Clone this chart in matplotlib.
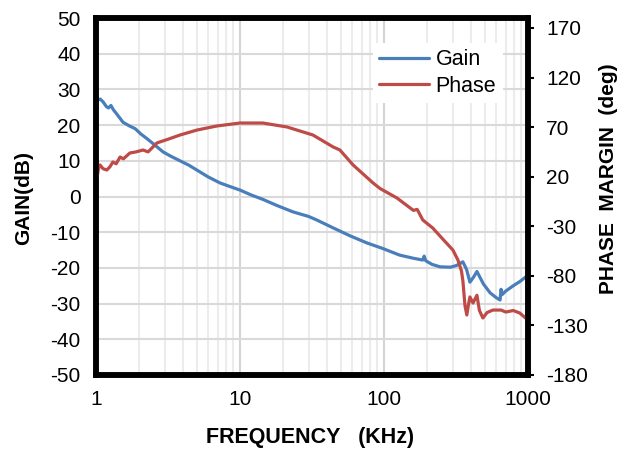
import matplotlib
matplotlib.use("Agg")
import matplotlib.pyplot as plt
from matplotlib.ticker import FixedLocator, FuncFormatter, LogLocator, NullFormatter

plt.rcParams['font.family'] = ['Liberation Sans', 'DejaVu Sans']
plt.rcParams['axes.unicode_minus'] = False

# gain curve (kHz, dB)
gain_f = [1.0, 1.03, 1.07, 1.12, 1.18, 1.22, 1.27, 1.32, 1.4, 1.54,
          1.7, 1.87, 2.05, 2.26, 2.6, 2.92, 3.3, 3.83, 4.4, 5.02,
          6.0, 7.26, 8.5, 10, 12, 14.4, 18, 23.3, 30, 34.2,
          44.4, 58, 76, 98.6, 128, 160, 186, 190, 195, 215,
          245, 290, 320, 353, 375, 395, 420, 442, 490, 546,
          600, 640, 650, 660, 700, 790, 880, 1000]
gain_db = [26.0, 27.0, 27.3, 26.5, 25.2, 24.8, 25.5, 24.3, 23.0, 20.8,
           19.8, 19.0, 17.5, 16.2, 14.2, 12.5, 11.3, 10.0, 8.8, 7.4,
           5.5, 3.8, 2.8, 1.8, 0.4, -0.8, -2.5, -4.3, -5.6, -6.6,
           -8.8, -11.0, -13.0, -14.6, -16.4, -17.3, -17.8, -16.7, -18.0, -19.0,
           -19.7, -19.8, -19.3, -18.3, -20.5, -24.0, -22.5, -21.0, -24.5, -27.0,
           -28.3, -29.0, -26.0, -27.5, -26.5, -25.0, -23.8, -22.0]

# phase margin curve (kHz, deg)
phase_f = [1.0, 1.016, 1.04, 1.066, 1.12, 1.19, 1.25, 1.31, 1.38, 1.47,
           1.55, 1.72, 1.9, 2.12, 2.3, 2.65, 3.2, 3.83, 5.02, 6.9,
           10, 14.4, 21.2, 32.1, 44.4, 49.4, 61, 84, 94, 123,
           160, 170, 186, 218, 260, 301, 326, 345, 353, 365,
           376, 385, 395, 415, 442, 460, 486, 520, 571, 650,
           700, 790, 877, 1000]
phase_deg = [14, 18.7, 28, 31.8, 28, 26.7, 30, 34.8, 33, 39.8,
             38, 43.9, 45, 46.9, 45, 54, 58, 62, 67, 71.1,
             74.1, 74.1, 70.1, 62, 49.9, 46.9, 31.8, 13.6, 8, -1.5,
             -14, -13, -23.7, -31.8, -44, -54, -64, -75, -85, -110,
             -119.5, -110, -101.3, -107.4, -99.6, -115, -122.5, -117, -114.5, -114.5,
             -116.5, -115, -117.5, -124.7]

gain_ticks = list(range(-50, 51, 10))
phase_ticks = list(range(-180, 171, 50))
freq_ticks = [1, 10, 100, 1000]

blue = '#4a7ebb'
red = '#be4b48'

fig = plt.figure(figsize=(6.33, 4.5), dpi=100)
ax = fig.add_axes([96 / 633, 1 - 375 / 450, 432 / 633, 357 / 450])
ax2 = ax.twinx()

ax.plot(gain_f, gain_db, color=blue, lw=2.3, label='Gain', solid_capstyle='round')
ax2.plot(phase_f, phase_deg, color=red, lw=2.3, label='Phase', solid_capstyle='round')

ax.set_xscale('log')
ax.set_xlim(1, 1000)
ax.set_ylim(-50, 50)
ax2.set_ylim(-180, 180)

ax.xaxis.set_major_locator(FixedLocator(freq_ticks))
ax.xaxis.set_major_formatter(FuncFormatter(lambda v, p: '%g' % v))
ax.xaxis.set_minor_locator(LogLocator(base=10, subs=range(2, 10)))
ax.xaxis.set_minor_formatter(NullFormatter())
ax.set_yticks(gain_ticks)
ax2.set_yticks(phase_ticks)

# grid
ax.grid(which='major', axis='y', color='#d9d9d9', lw=1.5)
ax.grid(which='major', axis='x', color='#d4d4d4', lw=1.5)
ax.grid(which='minor', axis='x', color='#ececec', lw=1.5)
ax.set_axisbelow(True)

ax.tick_params(axis='both', which='both', length=0, labelsize=15, pad=11)
ax2.tick_params(axis='y', length=4, width=1.5, direction='out', labelsize=15, pad=9)

for a in (ax, ax2):
    for s in a.spines.values():
        s.set_linewidth(4)
        s.set_color('black')

fig.text(24 / 633, 1 - 198 / 450, 'GAIN(dB)', rotation=90, ha='center', va='center',
         fontsize=15, fontweight='bold')
fig.text(608 / 633, 1 - 179 / 450, 'PHASE  MARGIN  (deg)', rotation=90, ha='center',
         va='center', fontsize=15, fontweight='bold')
fig.text(310 / 633, 1 - 437 / 450, 'FREQUENCY   (KHz)', ha='center', va='center',
         fontsize=15.5, fontweight='bold')

h1, l1 = ax.get_legend_handles_labels()
h2, l2 = ax2.get_legend_handles_labels()
leg = ax2.legend(h1 + h2, l1 + l2, loc='upper left', bbox_to_anchor=(373 / 633, 1 - 43 / 450),
                 bbox_transform=fig.transFigure, fontsize=15.5, frameon=True, fancybox=False,
                 edgecolor='none', framealpha=1, handlelength=2.3, handletextpad=0.3,
                 labelspacing=0.25, borderaxespad=0, borderpad=0.3)

fig.savefig('out.png', dpi=100)
